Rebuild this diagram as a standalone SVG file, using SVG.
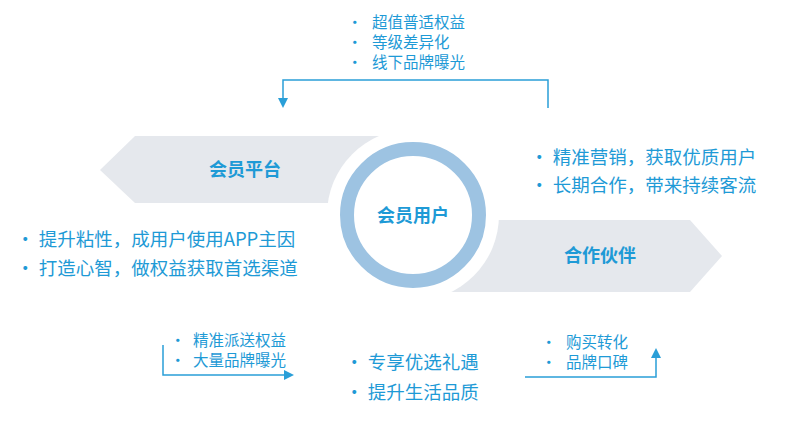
<svg xmlns="http://www.w3.org/2000/svg" width="800" height="423" viewBox="0 0 800 423">
<defs>
<style>
text{font-family:"Noto Sans CJK SC","Liberation Sans",sans-serif;fill:#1e9ad6}
.s{font-size:15.5px}
.m{font-size:18.5px}
.b{font-size:18px;font-weight:bold}
.ln{fill:none;stroke:#2a9fd8;stroke-width:1.5}
</style>
<marker id="ah" markerWidth="10" markerHeight="10" refX="8" refY="5" orient="auto" markerUnits="userSpaceOnUse"><path d="M0,0L10,5L0,10z" fill="#2a9fd8"/></marker>
</defs>
<rect width="800" height="423" fill="#fff"/>
<g id="shapes">
<path d="M100,170 L135,136 L420,136 L420,203 L135,203 Z" fill="#e5e8ed"/>
<path d="M400,220 L690,220 L722,256 L690,292 L400,292 Z" fill="#e5e8ed"/>
<circle cx="413" cy="215" r="86" fill="#fff"/>
<circle cx="413" cy="215" r="66" fill="#fff" stroke="#9dc3e2" stroke-width="14"/>
</g>
<g id="center"><text class="b" x="413" y="222" text-anchor="middle">会员用户</text></g>
<g id="platform"><text class="b" x="245" y="176" text-anchor="middle">会员平台</text></g>
<g id="partner"><text class="b" x="600" y="262" text-anchor="middle">合作伙伴</text></g>
<g id="top-list">
<text class="s" x="347" y="28">•</text><text class="s" x="372" y="28">超值普适权益</text>
<text class="s" x="347" y="48">•</text><text class="s" x="372" y="48">等级差异化</text>
<text class="s" x="347" y="68">•</text><text class="s" x="372" y="68">线下品牌曝光</text>
</g>
<g id="right-list">
<text class="m" x="530" y="164">• 精准营销，获取优质用户</text>
<text class="m" x="530" y="192">• 长期合作，带来持续客流</text>
</g>
<g id="left-list">
<text class="m" x="16" y="246">• 提升粘性，成用户使用APP主因</text>
<text class="m" x="16" y="275">• 打造心智，做权益获取首选渠道</text>
</g>
<g id="bl-list">
<text class="s" x="170" y="346">•</text><text class="s" x="193" y="346">精准派送权益</text>
<text class="s" x="170" y="366">•</text><text class="s" x="193" y="366">大量品牌曝光</text>
</g>
<g id="bc-list">
<text class="m" x="345" y="369">• 专享优选礼遇</text>
<text class="m" x="345" y="399">• 提升生活品质</text>
</g>
<g id="br-list">
<text class="s" x="541" y="348">•</text><text class="s" x="566" y="348">购买转化</text>
<text class="s" x="541" y="368">•</text><text class="s" x="566" y="368">品牌口碑</text>
</g>
<g id="connectors">
<path class="ln" d="M548,108 L548,80 L283,80 L283,106" marker-end="url(#ah)"/>
<path class="ln" d="M163,345 L163,375 L292,375" marker-end="url(#ah)"/>
<path class="ln" d="M525,377 L656,377 L656,350" marker-end="url(#ah)"/>
</g>
</svg>
